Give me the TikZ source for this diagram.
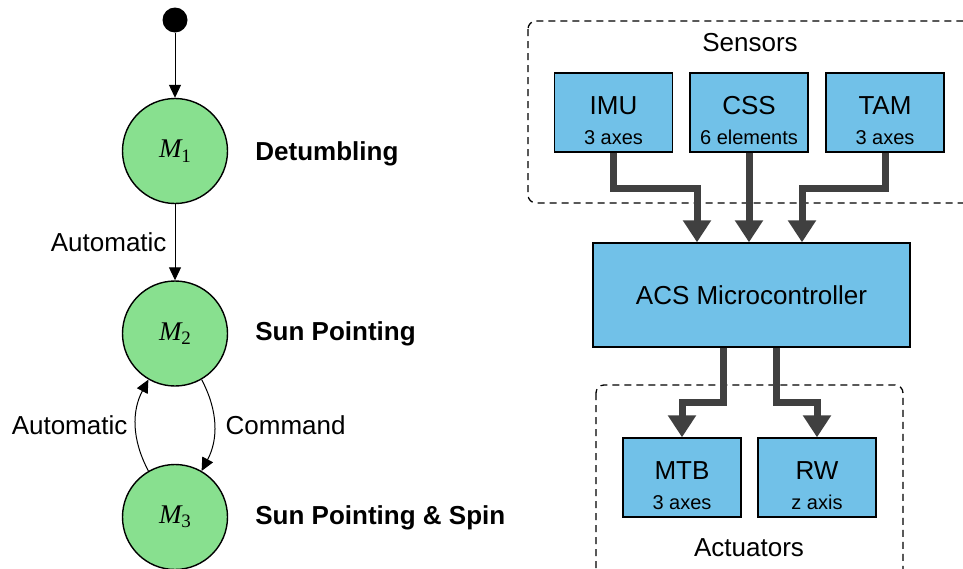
\documentclass[tikz,border=0pt]{standalone}
\usepackage{fontspec}
\setmainfont{Liberation Sans}
\newfontfamily\stateserif{Liberation Serif}
\usetikzlibrary{arrows.meta}
\definecolor{stategreen}{HTML}{88E08F}
\definecolor{unitblue}{HTML}{71C1E8}
\definecolor{busgray}{HTML}{404040}
\newcommand{\modeM}[1]{{\stateserif\itshape M}\raisebox{-2.2pt}{\stateserif\fontsize{9.5}{10}\selectfont #1}}

\begin{document}
\begin{tikzpicture}[x=0.5pt,y=0.5pt,
  state/.style={circle,draw,line width=0.7pt,fill=stategreen,minimum size=52.5pt,inner sep=0pt,font=\fontsize{13.5}{15}\selectfont},
  mode/.style={anchor=west,inner sep=0pt,font=\fontsize{13}{15}\selectfont\bfseries},
  trans/.style={-{Triangle[width=6pt,length=6.5pt]},line width=0.5pt},
  unit/.style={draw,line width=0.7pt,fill=unitblue,minimum width=59pt,minimum height=39.5pt,align=center,inner sep=0pt,text height=32pt,font=\fontsize{13}{15}\selectfont},
  group/.style={draw,dash pattern=on 3.5pt off 2.5pt,line width=0.65pt,rounded corners=4pt},
  bus/.style={draw=busgray,line width=3.5pt,-{Triangle[width=13.5pt,length=11pt]}},
  sub/.style={font=\fontsize{10}{12}\selectfont}]
\useasboundingbox (0,0) rectangle (963,-568);
\node[circle,fill=black,minimum size=12.5pt,inner sep=0pt] (init) at (175,-20) {};
\node[state] (m1) at (175,-151) {\modeM{1}};
\node[state] (m2) at (175,-333.5) {\modeM{2}};
\node[state] (m3) at (175,-517) {\modeM{3}};
\node[mode] (d1) at (255,-154) {Detumbling};
\node[mode] (d2) at (255,-334) {Sun Pointing};
\node[mode] (d3) at (255,-518) {Sun Pointing \& Spin};
\draw[trans] (init) -- (m1);
\draw[trans] (m1) -- node[left,font=\fontsize{13}{15}\selectfont,inner sep=4pt]{Automatic} (m2);
\draw[trans] (m3.120) to[bend left=28] node[left,font=\fontsize{13}{15}\selectfont,inner sep=4pt]{Automatic} (m2.240);
\draw[trans] (m2.300) to[bend left=28] node[right,font=\fontsize{13}{15}\selectfont,inner sep=5.5pt]{Command} (m3.60);

\draw[group] (528,-21) rectangle (975,-203);
\node[font=\fontsize{13}{15}\selectfont] (sens) at (750,-43) {Sensors};
\node[unit] (imu) at (613.5,-112.5) {IMU\\[0pt]{\fontsize{10}{12}\selectfont 3 axes}};
\node[unit] (css) at (749,-112.5) {CSS\\[0pt]{\fontsize{10}{12}\selectfont 6 elements}};
\node[unit] (tam) at (885,-112.5) {TAM\\[0pt]{\fontsize{10}{12}\selectfont 3 axes}};
\node[draw,line width=0.7pt,fill=unitblue,minimum width=158.5pt,minimum height=52pt,font=\fontsize{13}{15}\selectfont] (acs) at (751.5,-295) {ACS Microcontroller};
\coordinate (j1) at (697,-188);
\coordinate (j3) at (802,-188);
\draw[bus] (imu.south) |- (j1) -- (j1 |- acs.north);
\draw[bus] (css.south) -- (css.south |- acs.north);
\draw[bus] (tam.south) |- (j3) -- (j3 |- acs.north);

\draw[group] (596,-385) rectangle (903,-585);
\node[font=\fontsize{13}{15}\selectfont] (act) at (749,-548) {Actuators};
\node[unit] (mtb) at (682,-477.5) {MTB\\[0pt]{\fontsize{10}{12}\selectfont 3 axes}};
\node[unit] (rw) at (817,-477.5) {RW\\[0pt]{\fontsize{10}{12}\selectfont z axis}};
\coordinate (a1) at (723,-402);
\coordinate (a2) at (776,-402);
\draw[bus] (a1 |- acs.south) -- (a1) -| (mtb.north);
\draw[bus] (a2 |- acs.south) -- (a2) -| (rw.north);
\end{tikzpicture}
\end{document}
